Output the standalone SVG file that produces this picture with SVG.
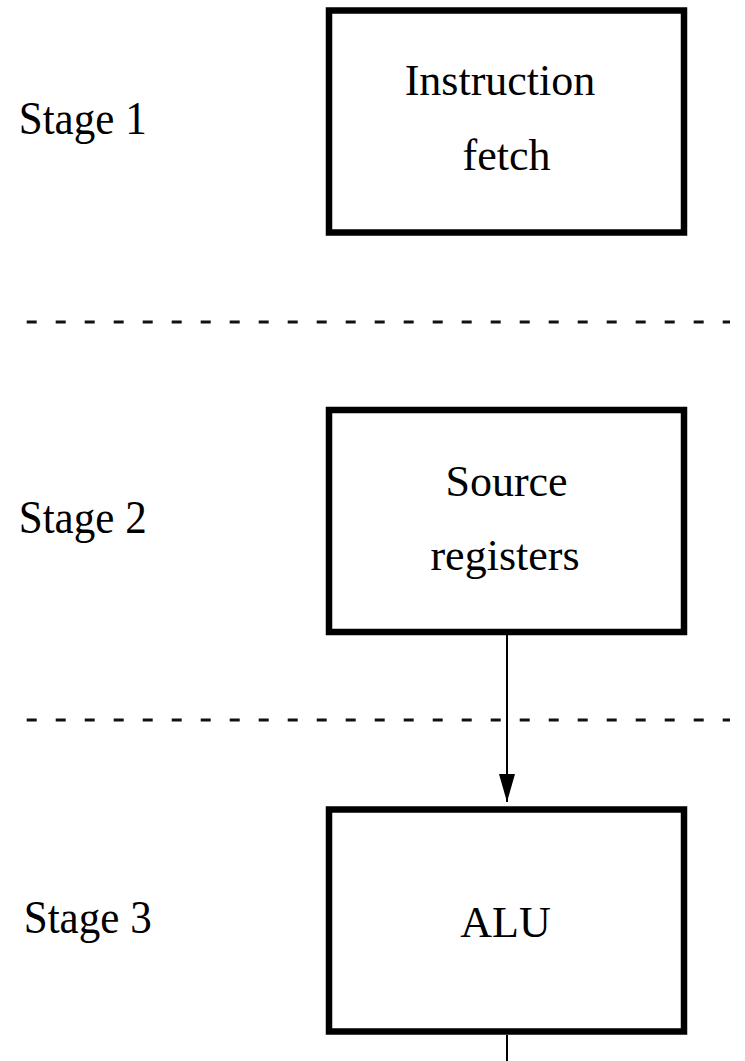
<svg xmlns="http://www.w3.org/2000/svg" width="745" height="1061" viewBox="0 0 745 1061">
<style>
.box{fill:#fff;stroke:#000;stroke-width:6.5}
.lbl{font-family:"Liberation Serif","Times New Roman",serif;font-size:44px;fill:#000;text-anchor:middle}
.stage{font-family:"Liberation Serif","Times New Roman",serif;font-size:47px;fill:#000}
.sep{stroke:#111;stroke-width:3;stroke-dasharray:10 19;fill:none}
.conn{stroke:#000;stroke-width:2;fill:none}
</style>
<defs>
<marker id="ah" markerUnits="userSpaceOnUse" viewBox="0 0 28 16" refX="28" refY="8" markerWidth="28" markerHeight="16" orient="auto">
<path d="M0,0 L28,8 L0,16 z" fill="#000"/>
</marker>
</defs>
<rect width="745" height="1061" fill="#fff"/>
<g id="separators">
<line class="sep" x1="26.7" y1="322" x2="730" y2="322"/>
<line class="sep" x1="26.7" y1="720" x2="730" y2="720"/>
</g>
<g id="stage-labels">
<text class="stage" x="18.7" y="134" textLength="128" lengthAdjust="spacingAndGlyphs">Stage 1</text>
<text class="stage" x="18.7" y="533" textLength="128" lengthAdjust="spacingAndGlyphs">Stage 2</text>
<text class="stage" x="23.7" y="933" textLength="128" lengthAdjust="spacingAndGlyphs">Stage 3</text>
</g>
<g id="connectors">
<line class="conn" x1="507" y1="635" x2="507" y2="802" marker-end="url(#ah)"/>
<line class="conn" x1="507" y1="1035" x2="507" y2="1061"/>
</g>
<g id="instruction-fetch">
<rect class="box" x="329" y="10.5" width="355" height="222"/>
<text class="lbl" x="500" y="95">Instruction</text>
<text class="lbl" x="506.5" y="170">fetch</text>
</g>
<g id="source-registers">
<rect class="box" x="329" y="410" width="355" height="222"/>
<text class="lbl" x="506.5" y="496">Source</text>
<text class="lbl" x="505" y="570">registers</text>
</g>
<g id="alu">
<rect class="box" x="329" y="809.5" width="355" height="222"/>
<text class="lbl" x="505.5" y="937">ALU</text>
</g>
</svg>
